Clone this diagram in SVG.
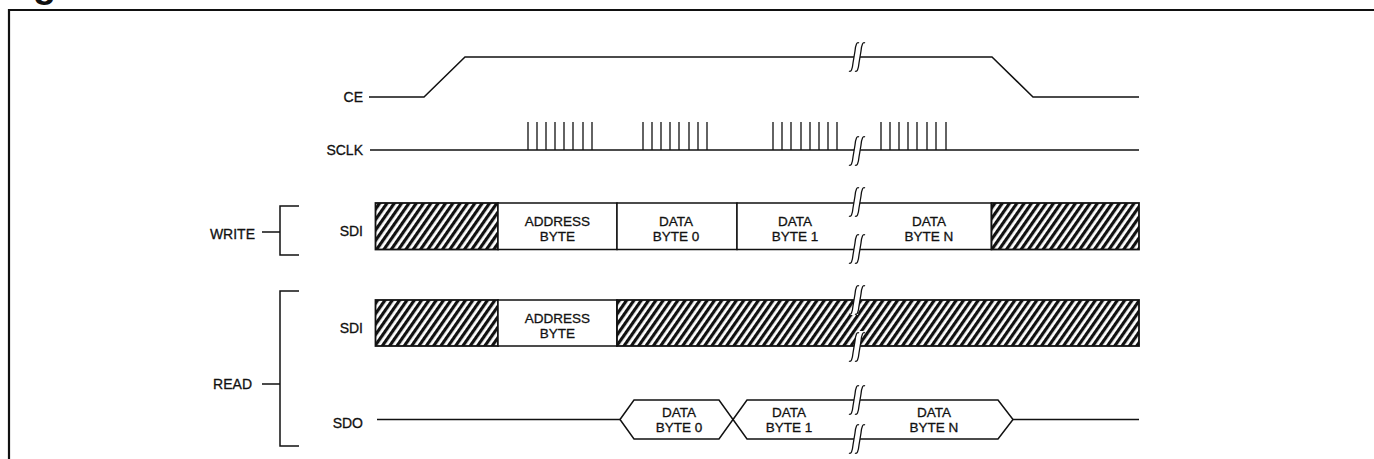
<svg xmlns="http://www.w3.org/2000/svg" xmlns:xlink="http://www.w3.org/1999/xlink" width="1374" height="459" viewBox="0 0 1374 459">
<style>
  .ln { fill: none; stroke: #111; stroke-width: 1.5; stroke-linejoin: miter; }
  .frame { fill: none; stroke: #111; stroke-width: 2.2; }
  .pulse { stroke: #111; stroke-width: 1.3; }
  .lbl { font-family: "Liberation Sans", Arial, sans-serif; font-size: 14px; fill: #111; stroke: #111; stroke-width: 0.3; }
  .sm { font-size: 13.5px; }
  .c { text-anchor: middle; }
  .e { text-anchor: end; }
  .hbox { fill: url(#hatch); stroke: #111; stroke-width: 1.8; }
  .wbox { fill: #fff; stroke: #111; stroke-width: 1.5; }
  .brkband { fill: #fff; stroke: none; }
  .brkln { fill: none; stroke: #111; stroke-width: 1.3; }
</style>
<defs>
  <pattern id="hatch" width="6" height="6" patternUnits="userSpaceOnUse" patternTransform="rotate(35)">
    <rect width="6" height="6" fill="#fff"/>
    <rect width="3.2" height="6" fill="#111"/>
  </pattern>
  <g id="brk">
    <path class="brkband" d="M-8,15 L-4,6 L-2,-6 L-1,-16 L7,-16 L4,-6 L2,6 L1,15 Z"/>
    <path class="brkln" d="M-8,14 Q-5,16 -4,6 L-2,-6 Q-1,-16 2,-14"/>
    <path class="brkln" d="M-2,14 Q1,16 2,6 L4,-6 Q5,-16 8,-14"/>
  </g>
</defs>
<rect width="1374" height="459" fill="#fff"/>

<g id="frame">
  <text x="33" y="-3" style="font-family:'Liberation Sans',Arial,sans-serif;font-size:38px;font-weight:bold;fill:#111">g</text>
  <path class="frame" d="M9,459 L9,10 L1374,10"/>
</g>

<g id="labels">
  <text class="lbl e" x="363" y="102">CE</text>
  <text class="lbl e" x="363" y="155">SCLK</text>
  <text class="lbl e" x="363" y="236">SDI</text>
  <text class="lbl e" x="363" y="333">SDI</text>
  <text class="lbl e" x="363" y="428">SDO</text>
</g>

<g id="write-group">
  <text class="lbl e" x="255" y="239">WRITE</text>
  <path class="ln" d="M262,232 L280,232 M299,206 L280,206 L280,255 L299,255"/>
</g>

<g id="read-group">
  <text class="lbl e" x="252" y="389">READ</text>
  <path class="ln" d="M262,384 L280,384 M299,291 L280,291 L280,446 L299,446"/>
</g>

<g id="connectors">
  <path id="ce-wave" class="ln" d="M369,97 L424,97 L465,57 L992,57 L1033,97 L1139,97"/>
  <g id="sclk-wave">
    <path class="ln" d="M370,150 L1139,150"/>
    <g class="pulse">
      <path d="M528,150V122M537,150V122M546,150V122M555,150V122M564,150V122M573,150V122M583,150V122M592,150V122"/>
      <path d="M643,150V122M652,150V122M661,150V122M670,150V122M679,150V122M689,150V122M698,150V122M707,150V122"/>
      <path d="M773,150V122M782,150V122M791,150V122M801,150V122M810,150V122M819,150V122M828,150V122M837,150V122"/>
      <path d="M881,150V122M890,150V122M899,150V122M908,150V122M917,150V122M927,150V122M936,150V122M946,150V122"/>
    </g>
  </g>
  <path id="sdo-line-left" class="ln" d="M377,419.5 L620,419.5"/>
  <path id="sdo-line-right" class="ln" d="M1013,419.5 L1139,419.5"/>
</g>

<g id="write-sdi">
  <rect class="hbox" x="375.5" y="203" width="122.5" height="46.5"/>
  <rect class="wbox" x="498" y="203" width="119" height="46.5"/>
  <rect class="wbox" x="617" y="203" width="120" height="46.5"/>
  <rect class="wbox" x="737" y="203" width="254.5" height="46.5"/>
  <rect class="hbox" x="991.5" y="203" width="147.5" height="46.5"/>
  <text class="lbl sm c" x="557.5" y="226">ADDRESS</text>
  <text class="lbl sm c" x="557.5" y="241">BYTE</text>
  <text class="lbl sm c" x="676" y="226">DATA</text>
  <text class="lbl sm c" x="676" y="241">BYTE 0</text>
  <text class="lbl sm c" x="795" y="226">DATA</text>
  <text class="lbl sm c" x="795" y="241">BYTE 1</text>
  <text class="lbl sm c" x="929" y="226">DATA</text>
  <text class="lbl sm c" x="929" y="241">BYTE N</text>
</g>

<g id="read-sdi">
  <rect class="hbox" x="375.5" y="300" width="122.5" height="46"/>
  <rect class="wbox" x="498" y="300" width="119" height="46"/>
  <rect class="hbox" x="617" y="300" width="522" height="46"/>
  <text class="lbl sm c" x="557.5" y="323">ADDRESS</text>
  <text class="lbl sm c" x="557.5" y="338">BYTE</text>
</g>

<g id="sdo">
  <path class="ln" d="M620,419.5 L634,400 L719,400 L733,419.5 L719,439 L634,439 Z" fill="#fff"/>
  <path class="ln" d="M733,419.5 L747,400 L998,400 L1013,419.5 L998,439 L747,439 Z" fill="#fff"/>
  <text class="lbl sm c" x="679" y="417">DATA</text>
  <text class="lbl sm c" x="679" y="432">BYTE 0</text>
  <text class="lbl sm c" x="789" y="417">DATA</text>
  <text class="lbl sm c" x="789" y="432">BYTE 1</text>
  <text class="lbl sm c" x="934" y="417">DATA</text>
  <text class="lbl sm c" x="934" y="432">BYTE N</text>
</g>

<g id="breaks">
  <use xlink:href="#brk" x="857" y="57"/>
  <use xlink:href="#brk" x="857" y="151"/>
  <use xlink:href="#brk" x="857" y="202"/>
  <use xlink:href="#brk" x="857" y="249"/>
  <use xlink:href="#brk" x="857" y="300"/>
  <use xlink:href="#brk" x="857" y="347"/>
  <use xlink:href="#brk" x="857" y="400"/>
  <use xlink:href="#brk" x="857" y="439"/>
</g>
</svg>
